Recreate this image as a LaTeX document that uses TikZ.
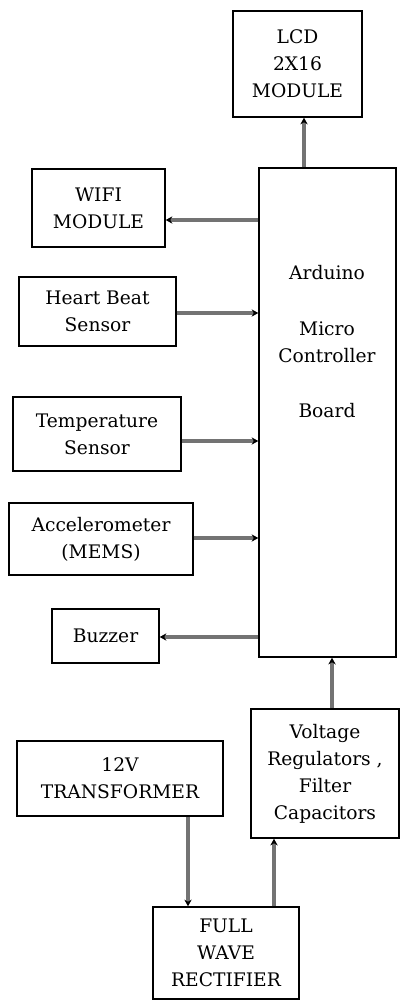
\documentclass[tikz,border=0pt]{standalone}
\usepackage{fontspec}
\setmainfont{DejaVu Serif}
\usetikzlibrary{arrows.meta}
\definecolor{arrowgray}{RGB}{115,115,115}
\begin{document}
\begin{tikzpicture}[x=0.75pt,y=-0.75pt,
  box/.style={draw=black,line width=1.1pt,inner sep=0pt,align=center,
    font=\fontsize{14}{20.25}\selectfont},
  lbl/.style={inner sep=0pt,align=center,font=\fontsize{14}{20.7}\selectfont},
  conn/.style={draw=arrowgray,line width=2.35pt,
    -{Stealth[length=5pt,width=5.5pt,black]}}]
\useasboundingbox (0,0) rectangle (400,1001);
\node[box,minimum width=129*0.75pt,minimum height=106*0.75pt] (lcd) at (297.5,64) {LCD\\2X16\\MODULE};
\node[box,minimum width=137*0.75pt,minimum height=489*0.75pt] (ard) at (327.5,412.5) {};
\node[lbl] (ardtxt) at (327,342) {Arduino\\[20.7pt]Micro\\Controller\\[20.7pt]Board};
\node[box,minimum width=133*0.75pt,minimum height=78*0.75pt] (wifi) at (98.5,208) {WIFI\\MODULE};
\node[box,minimum width=157*0.75pt,minimum height=69*0.75pt] (heart) at (97.5,311.5) {Heart Beat\\Sensor};
\node[box,minimum width=168*0.75pt,minimum height=74*0.75pt] (temp) at (97,434) {Temperature\\Sensor};
\node[box,minimum width=184*0.75pt,minimum height=72*0.75pt] (acc) at (101,539) {Accelerometer\\(MEMS)};
\node[box,minimum width=107*0.75pt,minimum height=54*0.75pt] (buzz) at (105.5,636) {Buzzer};
\node[box,minimum width=148*0.75pt,minimum height=129*0.75pt] (volt) at (325,773.5) {Voltage\\Regulators ,\\Filter\\Capacitors};
\node[box,minimum width=206*0.75pt,minimum height=75*0.75pt] (trans) at (120,778.5) {12V\\TRANSFORMER};
\node[box,minimum width=146*0.75pt,minimum height=92*0.75pt] (fwr) at (226,953) {FULL\\WAVE\\RECTIFIER};
\draw[conn] (ard.north -| 304,0) -- (lcd.south -| 304,0);
\draw[conn] (ard.west |- 0,220) -- (wifi.east |- 0,220);
\draw[conn] (heart.east |- 0,313) -- (ard.west |- 0,313);
\draw[conn] (temp.east |- 0,441) -- (ard.west |- 0,441);
\draw[conn] (acc.east |- 0,538) -- (ard.west |- 0,538);
\draw[conn] (ard.west |- 0,637) -- (buzz.east |- 0,637);
\draw[conn] (volt.north -| 332,0) -- (ard.south -| 332,0);
\draw[conn] (trans.south -| 188,0) -- (fwr.north -| 188,0);
\draw[conn] (fwr.north -| 274,0) -- (volt.south -| 274,0);
\end{tikzpicture}
\end{document}
